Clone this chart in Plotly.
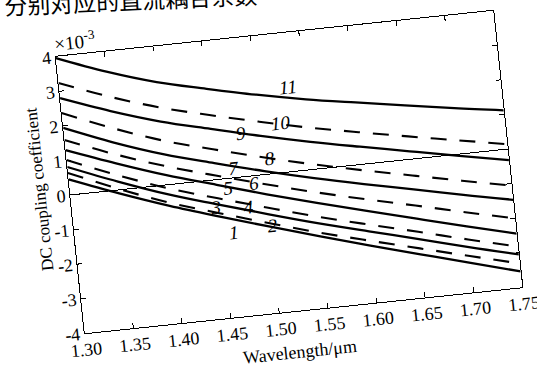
import plotly.graph_objects as go

wavelength = [1.30, 1.35, 1.40, 1.45, 1.50, 1.55, 1.60, 1.65, 1.70, 1.75]

c1 = [0.45, -0.10, -0.61, -1.07, -1.51, -1.94, -2.35, -2.75, -3.15, -3.54]
c2 = [0.64, 0.03, -0.52, -0.97, -1.41, -1.83, -2.21, -2.58, -2.95, -3.31]
c3 = [0.81, 0.24, -0.28, -0.72, -1.15, -1.56, -1.94, -2.31, -2.69, -3.05]
c4 = [1.01, 0.43, -0.10, -0.54, -0.96, -1.37, -1.74, -2.10, -2.47, -2.82]
c5 = [1.30, 0.77, 0.28, -0.15, -0.57, -0.97, -1.35, -1.72, -2.09, -2.45]
c6 = [1.59, 1.03, 0.54, 0.12, -0.28, -0.66, -1.01, -1.34, -1.68, -2.01]
c7 = [1.94, 1.37, 0.88, 0.48, 0.10, -0.25, -0.57, -0.87, -1.18, -1.47]
c8 = [2.37, 1.79, 1.28, 0.88, 0.50, 0.15, -0.17, -0.47, -0.77, -1.06]
c9 = [2.80, 2.28, 1.83, 1.47, 1.12, 0.80, 0.51, 0.23, -0.05, -0.32]
c10 = [3.24, 2.70, 2.24, 1.87, 1.53, 1.21, 0.93, 0.66, 0.40, 0.14]
c11 = [3.96, 3.42, 2.97, 2.63, 2.31, 2.03, 1.79, 1.56, 1.33, 1.12]

curves = [c1, c2, c3, c4, c5, c6, c7, c8, c9, c10, c11]
curve_names = ["1", "2", "3", "4", "5", "6", "7", "8", "9", "10", "11"]

# label positions (wavelength, value)
label_x = [1.463, 1.503, 1.447, 1.480, 1.462, 1.488, 1.469, 1.507, 1.480, 1.522, 1.533]
label_y = [-1.57, -1.47, -0.78, -0.87, -0.27, -0.21, 0.28, 0.46, 1.26, 1.43, 2.43]

x_ticks = [1.30, 1.35, 1.40, 1.45, 1.50, 1.55, 1.60, 1.65, 1.70, 1.75]
x_ticktext = ["1.30", "1.35", "1.40", "1.45", "1.50", "1.55", "1.60", "1.65", "1.70", "1.75"]
y_ticks = [-4, -3, -2, -1, 0, 1, 2, 3, 4]
y_ticktext = ["-4", "-3", "-2", "-1", "0", "1", "2", "3", "4"]

serif = "Liberation Serif, Times New Roman, serif"

fig = go.Figure()
for i, (vals, name) in enumerate(zip(curves, curve_names)):
    dashed = (i % 2 == 1)
    fig.add_trace(go.Scatter(
        x=wavelength, y=vals, mode="lines", name=name,
        line=dict(color="black", width=2.1 if dashed else 2.3,
                  dash="16px,13px" if dashed else "solid", shape="spline"),
        showlegend=False, hoverinfo="skip"))

for lx, ly, name in zip(label_x, label_y, curve_names):
    fig.add_annotation(x=lx, y=ly, text="<i>%s</i>" % name, showarrow=False,
                       font=dict(family=serif, size=19, color="black"))

fig.add_annotation(xref="paper", yref="paper", x=-0.005, y=1.10,
                   xanchor="left", text="×10<sup>-3</sup>", showarrow=False,
                   font=dict(family=serif, size=19, color="black"))
fig.add_annotation(xref="paper", yref="paper", x=-0.0936, y=0.533,
                   text="DC coupling coefficient", textangle=-90, showarrow=False,
                   font=dict(family=serif, size=17, color="black"))
fig.add_annotation(xref="paper", yref="paper", x=0.482, y=-0.19,
                   text="Wavelength/μm", showarrow=False,
                   font=dict(family=serif, size=18, color="black"))
fig.add_annotation(xref="paper", yref="paper", x=-0.111, y=1.08,
                   xanchor="left", yanchor="bottom", textangle=3.5,
                   text="分别对应的直流耦合系数", showarrow=False,
                   font=dict(family="Noto Sans CJK SC", size=23, color="black"))

axis_common = dict(showline=True, linecolor="black", linewidth=1, mirror="ticks",
                   ticks="inside", ticklen=5, tickcolor="black", showgrid=False,
                   tickfont=dict(family=serif, size=18, color="black"))

fig.update_xaxes(range=[1.30, 1.75], tickvals=x_ticks, ticktext=x_ticktext,
                 zeroline=False, **axis_common)
fig.update_yaxes(range=[-4, 4], tickvals=y_ticks, ticktext=y_ticktext,
                 zeroline=True, zerolinecolor="black", zerolinewidth=1,
                 **axis_common)

fig.update_layout(width=640, height=480,
                  margin=dict(l=100, r=100, t=80, b=122),
                  paper_bgcolor="white", plot_bgcolor="white")

post = """
var gd = document.getElementById('{plot_id}');
document.body.style.margin = '0';
document.body.style.overflow = 'hidden';
document.body.style.background = 'white';
gd.style.position = 'absolute';
gd.style.left = '-31.25px';
gd.style.top = '-47px';
gd.style.transformOrigin = '320px 219px';
gd.style.transform = 'rotate(-6deg)';
"""

fig.write_html("out.html", post_script=post)
